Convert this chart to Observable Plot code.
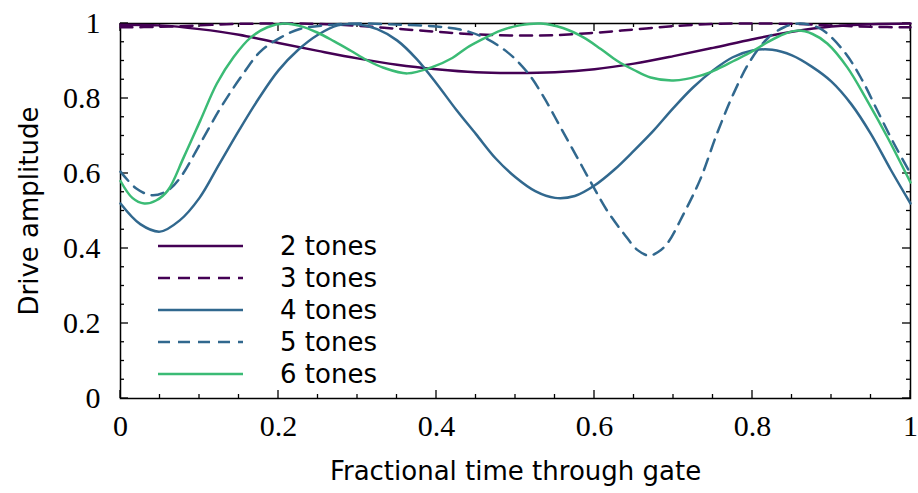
<!DOCTYPE html>
<html><head><meta charset="utf-8">
<script src="https://cdn.jsdelivr.net/npm/d3@7"></script>
<script src="https://cdn.jsdelivr.net/npm/@observablehq/plot@0.6"></script>
<style>body{margin:0;background:#fff;} svg{display:block;}</style>
</head><body><div id="chart"></div>
<script>
// Series names
const seriesNames = ["2 tones", "3 tones", "4 tones", "5 tones", "6 tones"];
const seriesColors = ["#440154", "#440154", "#31688e", "#31688e", "#3bbb75"];
const seriesDash = [null, "12,8", null, "12,8", null];

// 2 tones
const t2 = [0,0.05,0.1,0.15,0.2,0.25,0.3,0.35,0.4,0.45,0.5,0.55,0.6,0.65,0.7,0.75,0.8,0.85,0.9,0.95,1.0];
const a2 = [0.997,0.995,0.985,0.97,0.948,0.927,0.907,0.89,0.878,0.87,0.868,0.87,0.878,0.893,0.913,0.935,0.958,0.978,0.992,0.998,1.0];

// 3 tones
const t3 = [0,0.05,0.1,0.15,0.2,0.25,0.3,0.35,0.4,0.45,0.5,0.55,0.6,0.65,0.7,0.75,0.8,0.85,0.9,0.95,1.0];
const a3 = [0.99,0.991,0.995,0.999,1.0,0.999,0.994,0.986,0.978,0.971,0.968,0.969,0.975,0.984,0.993,0.999,1.0,0.999,0.995,0.991,0.99];

// 4 tones
const t4 = [0,0.025,0.05,0.075,0.1,0.125,0.15,0.175,0.2,0.225,0.25,0.275,0.3,0.325,0.35,0.375,0.4,0.425,0.45,0.475,0.5,0.525,0.55,0.575,0.6,0.625,0.65,0.675,0.7,0.725,0.75,0.775,0.8,0.825,0.85,0.875,0.9,0.925,0.95,0.975,1.0];
const a4 = [0.52,0.465,0.445,0.475,0.535,0.625,0.715,0.8,0.875,0.93,0.97,0.995,0.998,0.985,0.955,0.905,0.84,0.77,0.705,0.64,0.59,0.553,0.535,0.54,0.568,0.61,0.661,0.715,0.775,0.83,0.875,0.91,0.928,0.93,0.915,0.885,0.845,0.785,0.705,0.61,0.52];

// 5 tones
const t5 = [0,0.02,0.04,0.06,0.076,0.101,0.127,0.152,0.177,0.203,0.228,0.27,0.3,0.35,0.4,0.43,0.46,0.49,0.515,0.536,0.557,0.578,0.599,0.616,0.637,0.655,0.669,0.68,0.692,0.713,0.734,0.755,0.776,0.797,0.819,0.84,0.86,0.886,0.915,0.937,0.958,0.979,1.0];
const a5 = [0.605,0.56,0.542,0.555,0.59,0.68,0.776,0.856,0.925,0.963,0.986,0.997,1.0,0.997,0.992,0.984,0.963,0.923,0.87,0.803,0.723,0.643,0.563,0.501,0.44,0.395,0.381,0.39,0.413,0.493,0.585,0.706,0.813,0.9,0.96,0.99,1.0,0.986,0.928,0.856,0.768,0.68,0.6];

// 6 tones
const t6 = [0,0.015,0.03,0.045,0.06,0.08,0.101,0.122,0.143,0.165,0.186,0.207,0.228,0.249,0.27,0.291,0.312,0.333,0.363,0.396,0.42,0.439,0.46,0.481,0.505,0.532,0.56,0.586,0.608,0.629,0.65,0.671,0.7,0.734,0.755,0.776,0.8,0.819,0.84,0.857,0.876,0.895,0.92,0.945,0.971,1.0];
const a6 = [0.58,0.535,0.52,0.528,0.555,0.643,0.741,0.84,0.91,0.963,0.99,1.0,0.993,0.976,0.953,0.928,0.902,0.882,0.867,0.885,0.908,0.936,0.96,0.981,0.995,1.0,0.988,0.963,0.932,0.9,0.876,0.856,0.848,0.861,0.878,0.9,0.926,0.95,0.972,0.981,0.972,0.946,0.883,0.795,0.696,0.576];

// Ticks
const xMajor = [0, 0.2, 0.4, 0.6, 0.8, 1];
const xMinor = [0.05,0.1,0.15,0.25,0.3,0.35,0.45,0.5,0.55,0.65,0.7,0.75,0.85,0.9,0.95];
const yMajor = [0, 0.2, 0.4, 0.6, 0.8, 1];
const yMinor = [0.05,0.1,0.15,0.25,0.3,0.35,0.45,0.5,0.55,0.65,0.7,0.75,0.85,0.9,0.95];
const xTickLabels = ["0", "0.2", "0.4", "0.6", "0.8", "1"];
const yTickLabels = ["0", "0.2", "0.4", "0.6", "0.8", "1"];

const xLabel = "Fractional time through gate";
const yLabel = "Drive amplitude";

const allT = [t2, t3, t4, t5, t6];
const allA = [a2, a3, a4, a5, a6];

const sans = "DejaVu Sans";
const serif = "Liberation Serif";

const lineMarks = allT.map((ts, i) => {
  const rows = ts.map((t, j) => ({t, a: allA[i][j]}));
  return Plot.line(rows, {
    x: "t", y: "a", stroke: seriesColors[i], strokeWidth: 2.5,
    strokeDasharray: seriesDash[i] ?? undefined, curve: "catmull-rom"
  });
});

const chart = Plot.plot({
  width: 918, height: 493,
  marginLeft: 120, marginRight: 8, marginTop: 23, marginBottom: 95,
  x: {domain: [0, 1]},
  y: {domain: [0, 1]},
  marks: [
    Plot.axisX(xMajor, {anchor: "bottom", tickSize: 0, tickPadding: 16, label: null,
      tickFormat: (d, i) => xTickLabels[i], fontFamily: serif, fontSize: 30, fill: "black"}),
    Plot.axisY(yMajor, {anchor: "left", tickSize: 0, tickPadding: 20, label: null,
      tickFormat: (d, i) => yTickLabels[i], fontFamily: serif, fontSize: 30, fill: "black"}),
    Plot.text([xLabel], {text: d => d, frameAnchor: "bottom", dy: 81, textAnchor: "middle",
      fontFamily: sans, fontSize: 26, fill: "black"}),
    Plot.text([yLabel], {text: d => d, frameAnchor: "left", dx: -91, rotate: -90, textAnchor: "middle",
      fontFamily: sans, fontSize: 26, fill: "black"}),
    Plot.frame({stroke: "black", strokeWidth: 1.5}),
    ...lineMarks
  ]
});

document.getElementById("chart").appendChild(chart);

// Inward ticks on all four sides, positioned through Plot's own scales
const sx = chart.scale("x"), sy = chart.scale("y");
const [x0, x1] = sx.range, [y0, y1] = sy.range; // y0 bottom, y1 top
const svg = d3.select(chart);
const tg = svg.insert("g", "g[aria-label='line']").attr("stroke", "black").attr("stroke-width", 1.3);
const addX = (vals, len) => vals.forEach(v => {
  const x = sx.apply(v);
  tg.append("line").attr("x1", x).attr("x2", x).attr("y1", y0).attr("y2", y0 - len);
  tg.append("line").attr("x1", x).attr("x2", x).attr("y1", y1).attr("y2", y1 + len);
});
const addY = (vals, len) => vals.forEach(v => {
  const y = sy.apply(v);
  tg.append("line").attr("y1", y).attr("y2", y).attr("x1", x0).attr("x2", x0 + len);
  tg.append("line").attr("y1", y).attr("y2", y).attr("x1", x1).attr("x2", x1 - len);
});
addX(xMajor, 8); addX(xMinor, 4); addY(yMajor, 8); addY(yMinor, 4);

// Legend inside the plot area
const g = svg.append("g").attr("text-anchor", "start");
seriesNames.forEach((name, i) => {
  const y = 246 + 32 * i;
  g.append("line").attr("x1", 158).attr("x2", 243).attr("y1", y).attr("y2", y)
    .attr("stroke", seriesColors[i]).attr("stroke-width", 2.5)
    .attr("stroke-dasharray", seriesDash[i]);
  g.append("text").attr("x", 280).attr("y", y).attr("dy", "0.36em")
    .attr("font-family", sans).attr("font-size", 26).attr("fill", "black").text(name);
});
</script>
</body></html>
